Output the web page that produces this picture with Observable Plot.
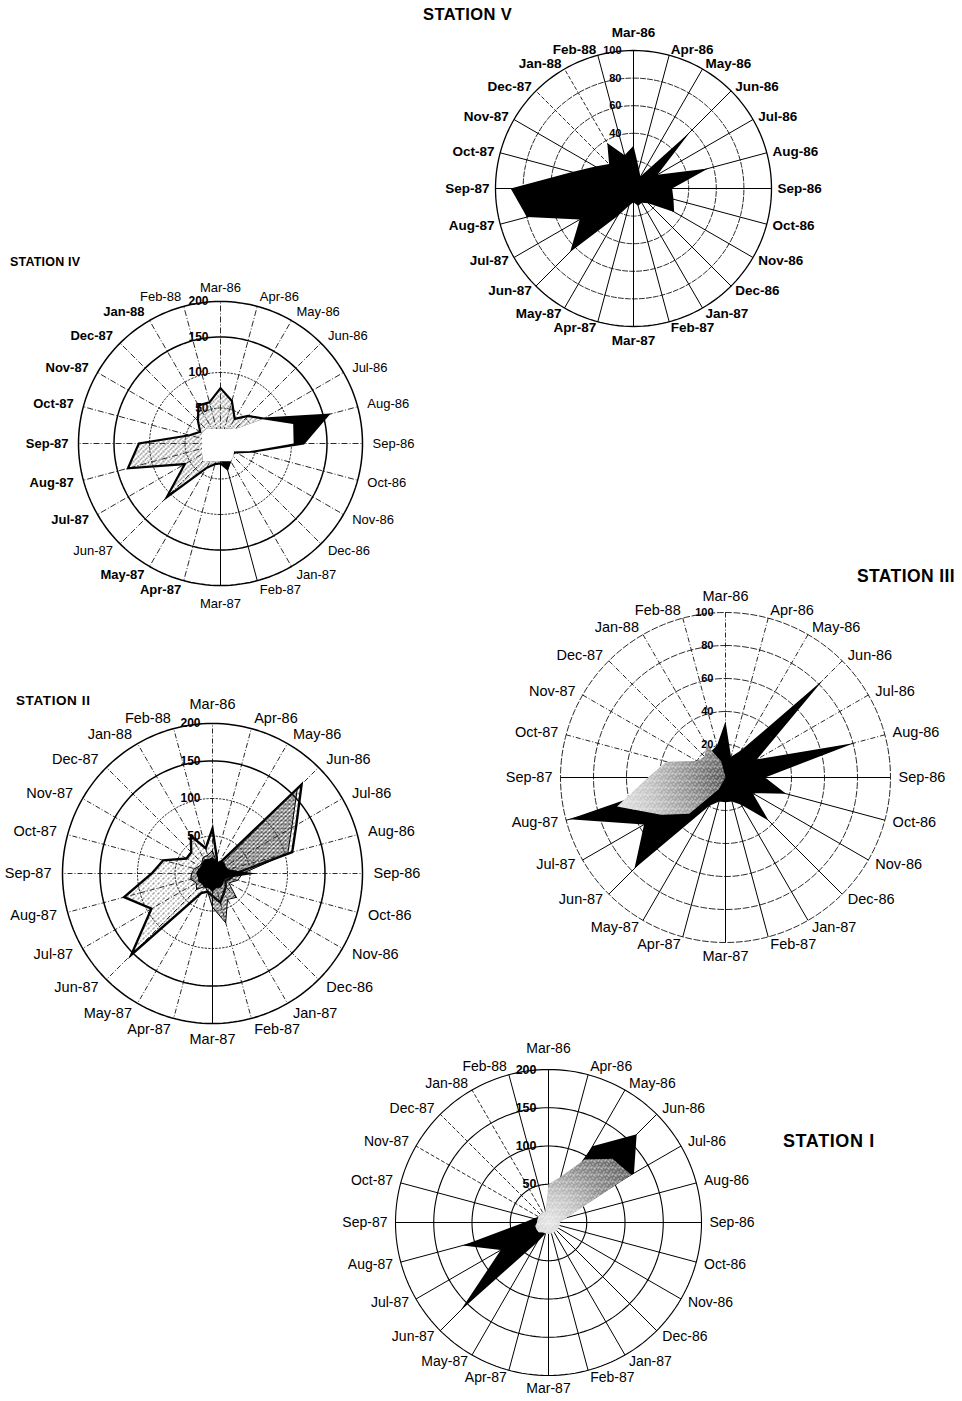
<!DOCTYPE html>
<html>
<head>
<meta charset="utf-8">
<script src="https://cdn.jsdelivr.net/npm/d3@7"></script>
<script src="https://cdn.jsdelivr.net/npm/@observablehq/plot@0.6"></script>
<style>
  body { margin: 0; background: #fff; }
  #page { position: relative; width: 962px; height: 1401px; overflow: hidden; background: #fff;
          font-family: "Liberation Sans", Arial, sans-serif; }
  .title { position: absolute; font-weight: bold; color: #000; white-space: nowrap; line-height: 1; }
  .radar { position: absolute; }
</style>
</head>
<body>
<div id="page"></div>
<script>
// Sampling months, clockwise from the top spoke
const months = ["Mar-86","Apr-86","May-86","Jun-86","Jul-86","Aug-86","Sep-86","Oct-86","Nov-86","Dec-86",
  "Jan-87","Feb-87","Mar-87","Apr-87","May-87","Jun-87","Jul-87","Aug-87","Sep-87","Oct-87","Nov-87",
  "Dec-87","Jan-88","Feb-88"];

// Radial tick values
const ticks100 = [20, 40, 60, 80, 100];
const ticks200 = [50, 100, 150, 200];

// Station V
const stationV = [31, 15, 10, 58, 20, 56, 28, 30, 34, 15, 12, 13, 10, 13, 23, 65, 45, 80, 89, 46, 32, 25, 38, 25];

// Station IV
const stationIV_outline = [78, 62, 40, 55, 70, 157, 117, 45, 25, 22, 28, 37, 28, 30, 40, 107, 58, 135, 115, 45, 33, 45, 62, 60];
const stationIV_dark    = [21, 21, 24, 29, 68, 157, 117, 42, 22, 26, 29, 40, 25, 26, 29, 35, 30, 27, 26, 27, 30, 29, 24, 21];
const stationIV_clear   = [21, 21, 24, 29, 68, 106, 103, 42, 22, 26, 29, 26, 25, 26, 29, 35, 30, 27, 26, 27, 30, 29, 24, 21];

// Station III
const stationIII_dark = [34, 13, 19, 84, 22, 81, 24, 38, 19, 37, 19, 15, 15, 15, 20, 78, 57, 98, 22, 20, 18, 15, 18, 20];
const stationIII_gray = [0, 0, 0, 0, 0, 0, 0, 0, 0, 0, 0, 0, 0, 0, 8, 31, 45, 68, 47, 37, 20, 18, 23, 10];

// Station II
const stationII_outline = [60, 22, 12, 168, 129, 110, 30, 25, 20, 25, 30, 40, 30, 25, 30, 153, 94, 122, 81, 68, 40, 40, 58, 35];
const stationII_stipple = [30, 18, 12, 160, 122, 104, 40, 35, 25, 45, 40, 68, 45, 25, 20, 30, 25, 30, 28, 25, 20, 20, 25, 25];
const stationII_core    = [22, 18, 18, 22, 20, 22, 58, 22, 18, 20, 22, 20, 25, 20, 22, 20, 22, 20, 22, 20, 18, 20, 22, 20];

// Station I
const stationI_dark = [20, 30, 115, 163, 129, 20, 12, 12, 12, 12, 12, 12, 12, 15, 30, 163, 72, 116, 32, 20, 15, 15, 15, 15];
const stationI_gray = [50, 62, 95, 118, 125, 25, 15, 15, 15, 15, 15, 15, 15, 15, 15, 18, 18, 18, 15, 15, 15, 15, 15, 15];

const page = document.getElementById("page");
const FONT = "Liberation Sans, Arial, sans-serif";
const TAU = 2 * Math.PI;
const polar = (v, i) => ({x: v * Math.sin(i * TAU / months.length), y: v * Math.cos(i * TAU / months.length)});
const range = (a, b) => d3.range(a, b + 1);

// Texture fills
function stipple(defs, id, size, dots, color) {
  const p = defs.append("pattern").attr("id", id).attr("patternUnits", "userSpaceOnUse")
    .attr("width", size).attr("height", size);
  dots.forEach(([x, y]) => p.append("rect").attr("x", x).attr("y", y).attr("width", 1).attr("height", 1).attr("fill", color));
}
function radial(defs, id, cx, cy, r, stops) {
  const g = defs.append("radialGradient").attr("id", id).attr("gradientUnits", "userSpaceOnUse")
    .attr("cx", cx).attr("cy", cy).attr("r", r);
  stops.forEach(([o, c]) => g.append("stop").attr("offset", o).attr("stop-color", c));
}
const speckDots = [[0, 0], [4, 1], [2, 3], [6, 4], [1, 6], [5, 6], [3, 0]];

function radar(o) {
  const k = o.R / o.max;                      // pixels per data unit
  const W = 2 * o.R + 170, H = 2 * o.R + 70;
  const hx = W / 2 / k, hy = H / 2 / k;
  const labelR = o.max * (o.R + o.gap) / o.R;
  const rings = o.ticks.flatMap(t => d3.range(0, 361, 2).map(a => ({
    t, x: t * Math.sin(a * Math.PI / 180), y: t * Math.cos(a * Math.PI / 180)})));
  const spokes = months.map((m, i) => ({i, ...polar(o.max, i)}));
  const labels = months.map((m, i) => ({i, m, ...polar(labelR, i)}));
  const isBold = i => o.bold === true || (Array.isArray(o.bold) && o.bold.includes(i));

  const marks = [
    Plot.line(rings, {filter: d => !o.ringSolid.includes(d.t), x: "x", y: "y", z: "t",
      stroke: "#111", strokeWidth: 0.9, strokeDasharray: o.ringDash}),
    Plot.line(rings, {filter: d => o.ringSolid.includes(d.t), x: "x", y: "y", z: "t",
      stroke: "#000", strokeWidth: o.ringWidth}),
    Plot.link(spokes, {filter: d => !o.spokeSolid.includes(d.i), x1: () => 0, y1: () => 0, x2: "x", y2: "y",
      stroke: "#111", strokeWidth: 0.9, strokeDasharray: o.spokeDash}),
    Plot.link(spokes, {filter: d => o.spokeSolid.includes(d.i), x1: () => 0, y1: () => 0, x2: "x", y2: "y",
      stroke: "#000", strokeWidth: 1}),
    Plot.text(o.ticks, {x: () => 0, y: d => d, text: d => String(d), textAnchor: "end", dx: -12,
      fontSize: o.tickSize, fontWeight: "bold", fontFamily: FONT, fill: "#000"})
  ];

  for (const layer of o.layers) {
    marks.push(Plot.line(layer.values.map((v, i) => polar(v, i)), {
      x: "x", y: "y", curve: "linear-closed",
      fill: layer.fill, stroke: layer.stroke ?? "none", strokeWidth: layer.strokeWidth ?? 0,
      strokeLinejoin: "miter", strokeMiterlimit: 6
    }));
  }

  const groups = [
    {test: i => i === 0, textAnchor: "middle", lineAnchor: "bottom", dy: -o.capTop},
    {test: i => i === 12, textAnchor: "middle", lineAnchor: "top", dy: o.capBottom},
    {test: i => i > 0 && i < 12, textAnchor: "start", lineAnchor: "middle", dy: 0},
    {test: i => i > 12, textAnchor: "end", lineAnchor: "middle", dy: 0}
  ];
  for (const g of groups) for (const weight of ["normal", "bold"]) {
    marks.push(Plot.text(labels, {
      filter: d => g.test(d.i) && (isBold(d.i) ? "bold" : "normal") === weight,
      x: "x", y: "y", text: "m", textAnchor: g.textAnchor, lineAnchor: g.lineAnchor, dy: g.dy,
      fontSize: o.fontSize, fontWeight: weight, fontFamily: FONT, fill: "#000"
    }));
  }

  const svg = Plot.plot({
    width: W, height: H, margin: 0,
    x: {domain: [-hx, hx], axis: null},
    y: {domain: [-hy, hy], axis: null},
    style: {background: "transparent", overflow: "visible"},
    marks
  });
  if (o.defs) o.defs(d3.select(svg).insert("defs", ":first-child"), W / 2, H / 2);
  svg.classList.add("radar");
  svg.style.left = (o.cx - W / 2) + "px";
  svg.style.top = (o.cy - H / 2) + "px";
  page.appendChild(svg);
}

function title(text, style) {
  const d = document.createElement("div");
  d.className = "title";
  d.textContent = text;
  Object.assign(d.style, style);
  page.appendChild(d);
}

// STATION V
radar({
  cx: 633, cy: 188, R: 138, max: 100, ticks: ticks100, gap: 6, capTop: 8, capBottom: 3,
  ringSolid: [100], ringDash: "5,2", ringWidth: 1.3,
  spokeSolid: months.map((m, i) => i).filter(i => i !== 21 && i !== 22), spokeDash: "4,2",
  fontSize: 13.5, bold: true, tickSize: 11,
  layers: [{values: stationV, fill: "#000"}]
});

// STATION IV
radar({
  cx: 220, cy: 443, R: 142, max: 200, ticks: ticks200, gap: 10, capTop: 0, capBottom: 3,
  ringSolid: [150, 200], ringDash: "1.5,2", ringWidth: 1.5,
  spokeSolid: [11, 12], spokeDash: "6,2,1,2",
  fontSize: 13, bold: [13, 14, 16, 17, 18, 19, 20, 21, 22], tickSize: 12,
  defs: (defs) => stipple(defs, "stip4", 5, [[0, 0], [3, 1], [1, 3], [4, 4], [2, 2]], "#555"),
  layers: [
    {values: stationIV_outline, fill: "url(#stip4)", stroke: "#000", strokeWidth: 2.2},
    {values: stationIV_dark, fill: "#000"},
    {values: stationIV_clear, fill: "#fff"}
  ]
});

// STATION III
radar({
  cx: 725, cy: 777, R: 165, max: 100, ticks: ticks100, gap: 8, capTop: 4, capBottom: 0,
  ringSolid: [], ringDash: "6,2.5", ringWidth: 1.2,
  spokeSolid: range(6, 18), spokeDash: "5,2,1,2",
  fontSize: 14.5, bold: false, tickSize: 11,
  defs: (defs, cx, cy) => {
    radial(defs, "grad3", cx, cy, 115, [[0, "#555"], [0.3, "#8e8e8e"], [0.65, "#c2c2c2"], [1, "#e6e6e6"]]);
    stipple(defs, "speck3", 7, speckDots, "#fff");
  },
  layers: [
    {values: stationIII_dark, fill: "#000"},
    {values: stationIII_gray, fill: "url(#grad3)"},
    {values: stationIII_gray, fill: "url(#speck3)"}
  ]
});

// STATION II
radar({
  cx: 212, cy: 873, R: 150, max: 200, ticks: ticks200, gap: 11, capTop: 4, capBottom: -1,
  ringSolid: [150, 200], ringDash: "1.5,2", ringWidth: 1.5,
  spokeSolid: [12], spokeDash: "5,2,1,2",
  fontSize: 14.5, bold: false, tickSize: 12,
  defs: (defs) => {
    stipple(defs, "stip2a", 5, [[0, 0], [3, 2], [1, 4]], "#444");
    stipple(defs, "stip2b", 4, [[0, 0], [2, 1], [1, 2], [3, 3], [0, 3], [2, 0]], "#222");
  },
  layers: [
    {values: stationII_outline, fill: "url(#stip2a)", stroke: "#000", strokeWidth: 2.4},
    {values: stationII_stipple, fill: "url(#stip2b)", stroke: "#000", strokeWidth: 1},
    {values: stationII_core, fill: "#000"}
  ]
});

// STATION I
radar({
  cx: 548, cy: 1222, R: 153, max: 200, ticks: ticks200, gap: 8, capTop: 9, capBottom: 0,
  ringSolid: ticks200, ringDash: null, ringWidth: 1.1,
  spokeSolid: months.map((m, i) => i).filter(i => i < 20 || i > 22), spokeDash: "4,2",
  fontSize: 14, bold: false, tickSize: 12.5,
  defs: (defs, cx, cy) => {
    radial(defs, "grad1", cx, cy, 100, [[0, "#e6e6e6"], [0.3, "#c2c2c2"], [0.6, "#8e8e8e"], [1, "#5e5e5e"]]);
    stipple(defs, "speck1", 7, speckDots, "#fff");
  },
  layers: [
    {values: stationI_dark, fill: "#000"},
    {values: stationI_gray, fill: "url(#grad1)"},
    {values: stationI_gray, fill: "url(#speck1)"}
  ]
});

title("STATION V",   {left: "423px", top: "6px",    fontSize: "16.5px", letterSpacing: "0.4px"});
title("STATION IV",  {left: "10px",  top: "256px",  fontSize: "12.5px", letterSpacing: "0.2px"});
title("STATION III", {left: "857px", top: "568px",  fontSize: "17.5px", letterSpacing: "0.4px"});
title("STATION II",  {left: "16px",  top: "694px",  fontSize: "13.5px", letterSpacing: "0.6px"});
title("STATION I",   {left: "783px", top: "1132px", fontSize: "18px", letterSpacing: "0.6px"});
</script>
</body>
</html>
